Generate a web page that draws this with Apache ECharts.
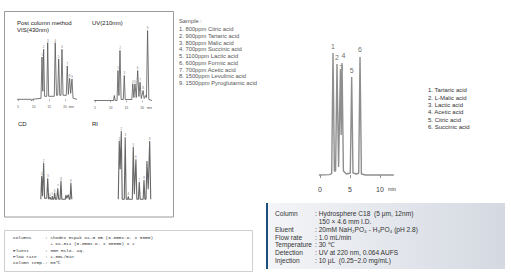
<!DOCTYPE html>
<html><head><meta charset="utf-8">
<script src="https://cdn.jsdelivr.net/npm/echarts@6/dist/echarts.min.js"></script>
<style>html,body{margin:0;padding:0;background:#fff}#c{width:511px;height:276px}</style>
</head><body><div id="c"></div>
<script>
// ---------- DATA ----------
// Main HPLC chromatogram (UV 220 nm): [time (min), signal, peak label]
const mainTrace = [
  [-0.2,0],[1.6,0.4],[1.95,1.5],[2.17,122,'1'],[2.4,4],[2.6,4],[2.83,111,'2'],[3.1,8],
  [3.4,105,'3'],[3.53,40],[3.67,112,'4'],[3.9,4],[4.4,1],[5.05,2],[5.28,98,'5'],[5.5,2],
  [6.1,1],[6.45,2],[6.67,118,'6'],[6.9,1],[7.6,0],[12.3,0]
];
const mainTicks = [0,5,10];
const mainLegend = ['1. Tartaric acid','2. L-Malic acid','3. Lactic acid','4. Acetic acid','5. Citric acid','6. Succinic acid'];

// Ion-exclusion panels: [time (min), signal, peak label]
const visTrace = [
  [4.7,0],[9.2,0],[9.4,-1.5],[9.6,0],[12.35,1],[12.67,42.3,'1'],[12.93,8],[13.2,50,'2'],[13.5,3],
  [14.2,3],[14.5,56.6,'3'],[14.8,3],[16.6,3],[16.9,56.6,'4'],[17.3,4],[17.7,4],[18.0,40.3,'5'],
  [18.35,4],[18.75,4],[19.06,50,'6'],[19.4,4],[20.45,4],[20.75,33.3,'7'],[21.1,5],[21.5,21,'8'],
  [21.85,6],[22.25,20.3,'9'],[22.6,1],[23.85,0]
];
const uvTrace = [
  [4.7,0],[10.9,0],[11.13,5],[11.4,0],[12.0,0],[12.3,30,'1'],[12.6,5],[12.94,50,'2'],[13.3,1],
  [14.0,1],[14.3,25,'3'],[14.6,1],[16.7,1],[17.0,16.7,'4'],[17.35,3],[17.7,16.7,'5'],[18.1,3],
  [18.56,30,'6'],[18.95,4],[19.3,18.3,'7'],[19.7,2],[20.3,10,'8'],[20.6,2],[21.1,5],[21.35,3],
  [21.7,70,'9'],[22.1,1],[23.1,0]
];
const cdTrace = [
  [12.3,0],[12.57,23.3,'1'],[12.85,3],[13.2,36.6,'2'],[13.5,1],[14.2,1],[14.5,21,'3'],[14.8,0],
  [15.0,0],[15.2,2.3,'4'],[15.5,0],[15.8,0],[15.96,3.3,'5'],[16.2,0],[16.5,0],[16.7,6.6,'6'],
  [17.0,0],[17.4,0],[17.7,11,'7'],[18.0,0],[18.45,0],[18.74,18.6,'8'],[19.0,0],[20.1,0],
  [20.3,4.3],[20.6,1],[21.07,4.6],[21.4,0],[21.65,0],[21.9,16.6,'9'],[22.2,0]
];
const riTrace = [
  [12.4,0],[12.71,58.6,'1'],[13.0,30],[13.35,68.3,'2'],[13.65,0],[14.3,0],[14.6,62,'3'],[14.9,0],
  [15.4,0],[15.57,3,'4'],[15.75,0],[16.85,0],[17.16,52.6,'5'],[17.5,5],[18.0,40,'6'],[18.3,0],
  [18.8,0],[19.06,17.6,'7'],[19.35,0],[20.3,0],[20.56,19.3,'8'],[20.85,0],[21.2,0],[21.5,38.3],
  [21.9,10],[22.37,58.3,'9'],[22.7,0]
];
const panelTicks = [5,10,15,20];

const sampleList = ['1. 800ppm Citric acid','2. 900ppm Tartaric acid','3. 800ppm Malic acid',
  '4. 700ppm Succinic acid','5. 1100ppm Lactic acid','6. 600ppm Formic acid','7. 700ppm Acetic acid',
  '8. 1500ppm Levulinic acid','9. 1500ppm Pyroglutamic acid'];

const condLeftLabels = ['Columns','','Eluent','Flow rate','Column temp.'];
const condLeftValues = [': Shodex RSpak KC-G 6B (6.0mmI.D. x 50mm)','  + KC-811 (8.0mmI.D. x 300mm) x 2',
  ': 3mM HClO\u2084 aq.',': 1.0mL/min',': 50\u2103'];
const condRightLabels = ['Column','','Eluent','Flow rate','Temperature','Detection','Injection'];
const condRightValues = [': Hydrosphere C18  (5 \u03bcm, 12nm)','  150 \u00d7 4.6 mm I.D.',
  ': 20mM NaH\u2082PO\u2084 - H\u2083PO\u2084 (pH 2.8)',': 1.0 mL/min',': 30 \u2103',
  ': UV at 220 nm, 0.064 AUFS',': 10 \u03bcL  (0.25~2.0 mg/mL)'];

// ---------- CHART ----------
const chart = echarts.init(document.getElementById('c'), null, {renderer:'svg', width:511, height:276});
const SANS = '"Liberation Sans", Arial, sans-serif';
const MONO = '"Liberation Mono", "DejaVu Sans Mono", monospace';

function txt(x, y, s, size, color, family) {
  return {type:'text', x:x, y:y, silent:true,
    style:{text:s, fill:color, fontSize:size, fontFamily:family||SANS, verticalAlign:'middle', align:'left'}};
}

const grids = [
  {left:314, top:50, width:84, height:133},
  {left:16.43, top:39.3, width:61.0, height:63},
  {left:93.4, top:25.5, width:59.85, height:78},
  {left:16.43, top:139.3, width:61.0, height:63},
  {left:93.4, top:124.3, width:59.85, height:78}
];

const xAxes = [
  {gridIndex:0, type:'value', min:-1, max:13,
   axisLine:{show:false}, splitLine:{show:false},
   axisTick:{show:true, customValues:mainTicks, length:3, lineStyle:{color:'#777', width:0.8}},
   axisLabel:{customValues:mainTicks.concat([12]), margin:3, fontSize:7, color:'#444', fontFamily:SANS,
     formatter:v => v === 12 ? '{m|min}' : String(v), rich:{m:{fontSize:5, color:'#444', fontFamily:SANS}}}},
  {gridIndex:1, type:'value', min:4.5, max:24,
   axisLine:{show:false}, splitLine:{show:false},
   axisTick:{show:true, customValues:panelTicks, length:2, lineStyle:{color:'#666', width:0.5}},
   axisLabel:{customValues:panelTicks.concat([22]), margin:3, fontSize:3, color:'#444', fontFamily:SANS,
     formatter:v => v === 22 ? 'min' : String(v)}},
  {gridIndex:2, type:'value', min:4.5, max:23.5,
   axisLine:{show:false}, splitLine:{show:false},
   axisTick:{show:true, customValues:panelTicks, length:2, lineStyle:{color:'#666', width:0.5}},
   axisLabel:{customValues:panelTicks.concat([22.3]), margin:3, fontSize:3, color:'#444', fontFamily:SANS,
     formatter:v => v === 22.3 ? 'min' : String(v)}},
  {gridIndex:3, type:'value', min:4.5, max:24, show:false},
  {gridIndex:4, type:'value', min:4.5, max:23.5, show:false}
];
const yAxes = [
  {gridIndex:0, type:'value', min:-8, max:125, show:false},
  {gridIndex:1, type:'value', min:-3, max:60, show:false},
  {gridIndex:2, type:'value', min:-3, max:75, show:false},
  {gridIndex:3, type:'value', min:-3, max:60, show:false},
  {gridIndex:4, type:'value', min:-3, max:75, show:false}
];

// label nudges (style only) for crowded peak labels of the main chromatogram
const mainLabelNudge = {'3':{offset:[0.8, 3.5], distance:2}, '4':{offset:[1.5, 0], distance:4}, '6':{offset:[0,0], distance:4}};

function traceSeries(idx, trace, color, width, labelSize, labelDist, nudge) {
  return [
    {type:'line', xAxisIndex:idx, yAxisIndex:idx, data:trace.map(d => [d[0], d[1]]),
     showSymbol:false, symbol:'none', lineStyle:{color:color, width:width}, animation:false, silent:true},
    {type:'scatter', xAxisIndex:idx, yAxisIndex:idx, symbolSize:1, itemStyle:{color:'rgba(0,0,0,0)'},
     animation:false, silent:true,
     data:trace.filter(d => d[2]).map(d => ({value:[d[0], d[1]],
       label:Object.assign({formatter:d[2]}, (nudge && nudge[d[2]]) || {})})),
     label:{show:true, position:'top', distance:labelDist, fontSize:labelSize, color:'#444', fontFamily:SANS}}
  ];
}

const series = [].concat(
  traceSeries(0, mainTrace, '#8e8e8e', 1.4, 7, 3, mainLabelNudge),
  traceSeries(1, visTrace, '#555', 0.8, 3, 0.5),
  traceSeries(2, uvTrace, '#555', 0.8, 3, 0.5),
  traceSeries(3, cdTrace, '#666', 1.1, 3, 0.5),
  traceSeries(4, riTrace, '#666', 1.1, 3, 0.5)
);

const graphics = [];
// big left frame
graphics.push({type:'rect', silent:true, shape:{x:4.5, y:11.5, width:169, height:205.5},
  style:{fill:'none', stroke:'#9a9a9a', lineWidth:1}});
// panel titles
graphics.push(txt(17, 23.3, 'Post column method', 6, '#222'));
graphics.push(txt(17, 30, 'VIS(430nm)', 6, '#222'));
graphics.push(txt(92, 23.3, 'UV(210nm)', 6, '#222'));
graphics.push(txt(18, 124, 'CD', 6, '#222'));
graphics.push(txt(92, 124, 'RI', 6, '#222'));
// sample list
graphics.push(txt(179, 21, 'Sample :', 5.8, '#555'));
sampleList.forEach((s, i) => graphics.push(txt(179, 29 + i * 6.75, s, 5.8, '#555')));
// main legend
mainLegend.forEach((s, i) => graphics.push(txt(428, 90.3 + i * 7.3, s, 6, '#333')));
// bottom-left conditions box
graphics.push({type:'rect', silent:true, shape:{x:4.5, y:230.5, width:248, height:41},
  style:{fill:'#fff', stroke:'#cfcfcf', lineWidth:1}});
condLeftLabels.forEach((s, i) => {
  const y = 237.5 + i * 6.3;
  if (s) graphics.push(txt(13, y, s, 4.4, '#333', MONO));
  graphics.push(txt(45, y, condLeftValues[i], 4.4, '#333', MONO));
});
// bottom-right conditions box
graphics.push({type:'rect', silent:true, shape:{x:266, y:203, width:239, height:66},
  style:{fill:new echarts.graphic.LinearGradient(0, 0, 1, 0, [
    {offset:0, color:'#f4f5f8'}, {offset:1, color:'#d4d9e1'}]), stroke:'none'}});
graphics.push({type:'rect', silent:true, shape:{x:266, y:203, width:2, height:66},
  style:{fill:'#1d4f7c'}});
condRightLabels.forEach((s, i) => {
  const y = 213.3 + i * 7.9;
  if (s) graphics.push(txt(275, y, s, 6.6, '#333'));
  graphics.push(txt(315, y, condRightValues[i], 6.6, '#333'));
});

chart.setOption({
  animation:false,
  backgroundColor:'#fff',
  grid:grids,
  xAxis:xAxes,
  yAxis:yAxes,
  series:series,
  graphic:graphics
});
</script></body></html>
